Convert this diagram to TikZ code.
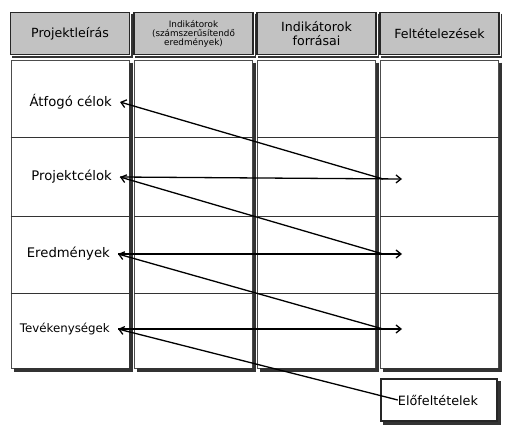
\documentclass[tikz,border=0pt]{standalone}
\usepackage{fontspec}
\setmainfont{DejaVu Sans}
\usetikzlibrary{arrows.meta}

\begin{document}
\begin{tikzpicture}[x=1pt,y=-1pt,
  hdr/.style={draw=black!85,line width=1.6pt,fill=black!24,minimum width=119pt,minimum height=42pt,
    inner sep=1pt,align=center,font=\fontsize{12.6}{13.5}\selectfont},
  col/.style={draw=black!70,line width=0.6pt,fill=white,minimum width=118pt,minimum height=308pt},
  boxshade/.style={draw=black!80,line width=3.4pt},
  lbl/.style={anchor=east,inner xsep=8pt,font=\fontsize{13.2}{15}\selectfont},
  link/.style={line width=1.3pt,-{Straight Barb[length=5pt,width=8pt]}}]
\useasboundingbox (0,0) rectangle (531,433);
% headings
\node[hdr] (h1) at (70,33.5) {Projektleírás};
\node[hdr,font=\fontsize{8.8}{9}\selectfont] (h2) at (193.5,33.5) {Indikátorok\\(számszerűsítendő\\eredmények)};
\node[hdr] (h3) at (316.5,33.5) {Indikátorok\\forrásai};
\node[hdr] (h4) at (439.5,33.5) {Feltételezések};
% columns
\foreach \i/\x in {1/70,2/193.5,3/316.5,4/439.5} {
  \node[col] (c\i) at (\x,214) {};
  \draw[boxshade] ([shift={(1.7,3)}]c\i.north east) |- ([shift={(3,1.7)}]c\i.south west);
  \draw[boxshade,line width=1.8pt] ([shift={(1.6,2)}]h\i.north east) |- ([shift={(2,1.6)}]h\i.south west);
  \foreach \y in {137,216,293}
    \draw[black!80,line width=0.8pt] (c\i.west |- 0,\y) -- (c\i.east |- 0,\y);
}
% rows
\node[lbl] (atf) at (120,102) {Átfogó célok};
\node[lbl] (proj) at (120,177) {Projektcélok};
\node[lbl] (ered) at (118,254) {Eredmények};
\node[lbl,font=\fontsize{11.8}{13}\selectfont] (tev) at (118,329) {Tevékenységek};
\node[draw=black!85,line width=1.2pt,fill=white,minimum width=116pt,minimum height=42pt] (elo) at (439,400) {};
\draw[boxshade] ([shift={(1.7,3)}]elo.north east) |- ([shift={(3,1.7)}]elo.south west);
\node[font=\fontsize{12.8}{14}\selectfont,inner sep=0pt] (elot) at (438,400) {Előfeltételek};
\coordinate (f1) at (402,179);
\coordinate (f2) at (402,254);
\coordinate (f3) at (402,329);
\coordinate (b1) at (383,179);
\coordinate (b2) at (383,254);
\coordinate (b3) at (383,329);
\draw[link] (proj.east) -- (f1);
\draw[link] (ered.east) -- (f2);
\draw[link] (tev.east) -- (f3);
\draw[link] (b1) -- (atf.east);
\draw[link] (b2) -- (proj.east);
\draw[link] (b3) -- (ered.east);
\draw[link] (elot.west) -- (tev.east);
\end{tikzpicture}
\end{document}
